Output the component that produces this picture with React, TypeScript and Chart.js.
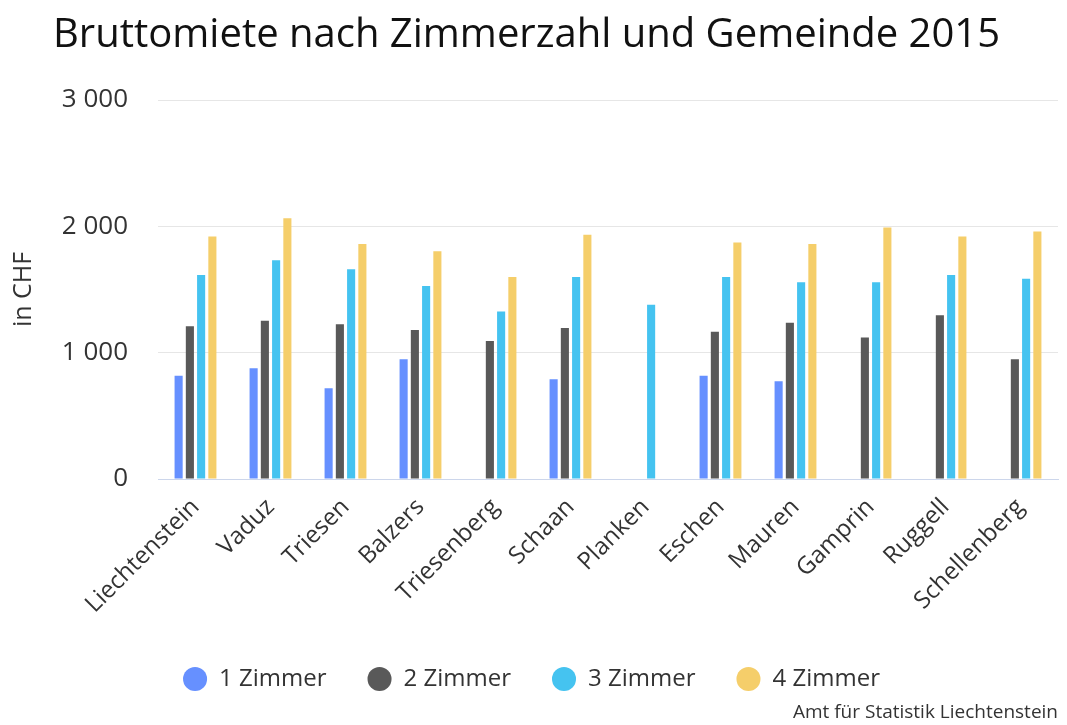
import React, { useEffect, useRef } from "react";
import { Chart, registerables } from "chart.js";

Chart.register(...registerables);

const TITLE = "Bruttomiete nach Zimmerzahl und Gemeinde 2015";
const CREDIT = "Amt für Statistik Liechtenstein";
const Y_TITLE = "in CHF";

const categories = [
  "Liechtenstein", "Vaduz", "Triesen", "Balzers", "Triesenberg", "Schaan",
  "Planken", "Eschen", "Mauren", "Gamprin", "Ruggell", "Schellenberg",
];
const zimmer1 = [818, 876, 718, 947, null, 789, null, 818, 773, null, null, null];
const zimmer2 = [1209, 1253, 1224, 1179, 1092, 1195, null, 1166, 1237, 1121, 1296, 947];
const zimmer3 = [1615, 1731, 1660, 1528, 1325, 1599, 1380, 1599, 1557, 1557, 1615, 1586];
const zimmer4 = [1919, 2063, 1860, 1802, 1599, 1934, null, 1873, 1860, 1990, 1919, 1960];
const seriesNames = ["1 Zimmer", "2 Zimmer", "3 Zimmer", "4 Zimmer"];
const seriesColors = ["#6690ff", "#595959", "#45c3f0", "#f5ce6a"];
const yMin = 0;
const yMax = 3000;
const yStep = 1000;

const FONT = "'Open Sans', 'Noto Sans', sans-serif";
const TEXT = "#333333";

const fmt = (v: number) => String(v).replace(/\B(?=(\d{3})+(?!\d))/g, " ");

const textPlugin = {
  id: "texts",
  afterDraw(chart: any) {
    const { ctx } = chart;
    ctx.save();
    ctx.fillStyle = "#111111";
    ctx.font = `40px ${FONT}`;
    ctx.textAlign = "left";
    ctx.textBaseline = "alphabetic";
    ctx.fillText(TITLE, 53, 47);
    ctx.fillStyle = TEXT;
    ctx.font = `19px ${FONT}`;
    ctx.textAlign = "right";
    ctx.textBaseline = "middle";
    ctx.fillText(CREDIT, 1058, 713);
    ctx.restore();
  },
};

export default function App() {
  const ref = useRef<HTMLCanvasElement>(null);
  useEffect(() => {
    if (!ref.current) return;
    const values = [zimmer1, zimmer2, zimmer3, zimmer4];
    const chart = new Chart(ref.current, {
      type: "bar",
      data: {
        labels: categories,
        datasets: seriesNames.map((name, i) => ({
          label: name,
          data: values[i],
          backgroundColor: seriesColors[i],
          borderColor: seriesColors[i],
          borderWidth: 0,
          categoryPercentage: 0.6,
          barPercentage: 0.72,
        })),
      },
      options: {
        responsive: false,
        animation: false,
        layout: { padding: { top: 100, left: 5, right: 9, bottom: 24 } },
        plugins: {
          title: { display: false },
          tooltip: { enabled: false },
          legend: {
            position: "bottom",
            labels: {
              usePointStyle: true,
              pointStyle: "circle",
              boxHeight: 17,
              padding: 41,
              color: TEXT,
              font: { family: FONT, size: 24 },
            },
          },
        },
        scales: {
          x: {
            grid: { display: false, drawTicks: false },
            border: { display: true, color: "#ccd6eb", width: 1 },
            ticks: {
              minRotation: 45,
              maxRotation: 45,
              color: TEXT,
              padding: 14,
              font: { family: FONT, size: 24 },
            },
            afterFit: (s: any) => {
              s.height = 147;
            },
          },
          y: {
            min: yMin,
            max: yMax,
            ticks: {
              stepSize: yStep,
              color: TEXT,
              padding: 30,
              font: { family: FONT, size: 26 },
              callback: (v: any) => fmt(Number(v)),
            },
            grid: {
              drawTicks: false,
              color: (c: any) => (c.tick && c.tick.value === 0 ? "#ccd6eb" : "#e6e6e6"),
            },
            border: { display: false },
            title: {
              display: true,
              text: Y_TITLE,
              color: TEXT,
              padding: { top: 4, bottom: 0 },
              font: { family: FONT, size: 25 },
            },
            afterFit: (s: any) => {
              s.width = 153;
            },
          },
        },
      },
      plugins: [textPlugin],
    });
    return () => chart.destroy();
  }, []);
  return (
    <div style={{ position: "absolute", left: 0, top: 0, width: 1067, height: 725, background: "#fff" }}>
      <canvas ref={ref} width={1067} height={725} />
    </div>
  );
}
